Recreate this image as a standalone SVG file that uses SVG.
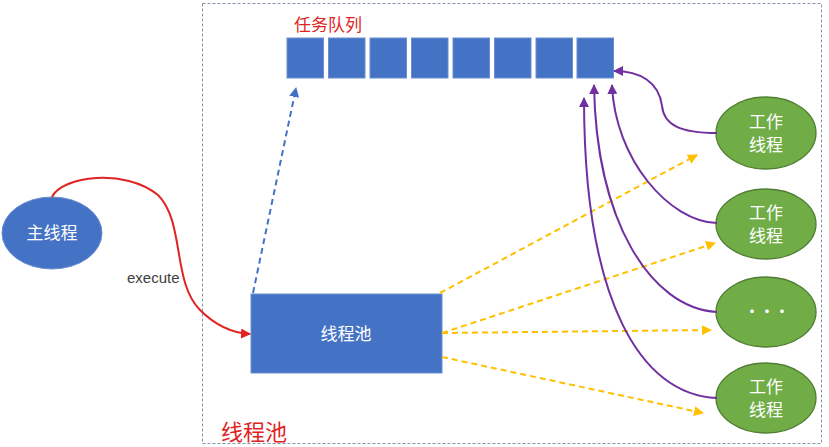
<svg xmlns="http://www.w3.org/2000/svg" width="829" height="447" viewBox="0 0 829 447">
<style>
.q{fill:#4472c4;stroke:#6a8fd0;stroke-width:1}
.w{fill:#70ad47;stroke:#507e32;stroke-width:1.3}
.t{font-family:"Noto Sans CJK SC","Liberation Sans",sans-serif;fill:#ffffff;font-size:17px;text-anchor:middle}
.red{font-family:"Noto Sans CJK SC","Liberation Sans",sans-serif;fill:#e02424}
.y{fill:none;stroke:#ffc000;stroke-width:2;stroke-dasharray:6,4;marker-end:url(#ay)}
.p{fill:none;stroke:#7030a0;stroke-width:2;marker-end:url(#ap)}
</style>
<defs>
<marker id="ay" viewBox="0 0 10 10" refX="9" refY="5" markerWidth="5" markerHeight="5" orient="auto" markerUnits="strokeWidth"><path d="M0,0 L10,5 L0,10 z" fill="#ffc000"/></marker>
<marker id="ap" viewBox="0 0 10 10" refX="9" refY="5" markerWidth="5" markerHeight="5" orient="auto" markerUnits="strokeWidth"><path d="M0,0 L10,5 L0,10 z" fill="#7030a0"/></marker>
<marker id="ar" viewBox="0 0 10 10" refX="9" refY="5" markerWidth="5" markerHeight="5" orient="auto" markerUnits="strokeWidth"><path d="M0,0 L10,5 L0,10 z" fill="#e02424"/></marker>
<marker id="ab" viewBox="0 0 10 10" refX="9" refY="5" markerWidth="5" markerHeight="5" orient="auto" markerUnits="strokeWidth"><path d="M0,0 L10,5 L0,10 z" fill="#4472c4"/></marker>
</defs>
<rect width="829" height="447" fill="#ffffff"/>
<g id="pool-boundary">
<rect x="202.5" y="3.5" width="619" height="440" fill="none" stroke="#8494a8" stroke-width="1" stroke-dasharray="3,2"/>
<text class="red" x="221" y="440" font-size="22">线程池</text>
</g>
<g id="task-queue">
<text class="red" x="294" y="31" font-size="17">任务队列</text>
<rect class="q" x="287" y="38" width="36.5" height="40"/>
<rect class="q" x="328.5" y="38" width="36.5" height="40"/>
<rect class="q" x="370" y="38" width="36.5" height="40"/>
<rect class="q" x="411.5" y="38" width="36.5" height="40"/>
<rect class="q" x="453" y="38" width="36.5" height="40"/>
<rect class="q" x="494.5" y="38" width="36.5" height="40"/>
<rect class="q" x="536" y="38" width="36.5" height="40"/>
<rect class="q" x="577" y="38" width="36.5" height="40"/>
</g>
<g id="main-thread">
<ellipse cx="52" cy="233" rx="50" ry="36" fill="#4472c4" stroke="#6a8fd0" stroke-width="1"/>
<text class="t" x="52" y="239">主线程</text>
</g>
<g id="thread-pool">
<rect x="251" y="294" width="191" height="79" fill="#4472c4" stroke="#6a8fd0" stroke-width="1"/>
<text class="t" x="346" y="340">线程池</text>
</g>
<g id="worker-1">
<ellipse class="w" cx="766" cy="133" rx="50" ry="36"/>
<text class="t" x="766" y="128">工作</text>
<text class="t" x="766" y="151">线程</text>
</g>
<g id="worker-2">
<ellipse class="w" cx="766" cy="224" rx="50" ry="35"/>
<text class="t" x="766" y="219">工作</text>
<text class="t" x="766" y="242">线程</text>
</g>
<g id="worker-3">
<ellipse class="w" cx="766" cy="312" rx="50" ry="35"/>
<text class="t" x="766" y="318" letter-spacing="-2">···</text>
</g>
<g id="worker-4">
<ellipse class="w" cx="766" cy="398" rx="50" ry="35"/>
<text class="t" x="766" y="393">工作</text>
<text class="t" x="766" y="416">线程</text>
</g>
<g id="connectors">
<path d="M52,197 C62,176 125,168 158,195 C185,222 172,282 200,310 C215,325 232,333 250,334" fill="none" stroke="#e02424" stroke-width="2" marker-end="url(#ar)"/>
<text x="127" y="283" font-family="Liberation Sans,Arial,sans-serif" font-size="15" fill="#404040">execute</text>
<path d="M253,293 L296,88" fill="none" stroke="#4472c4" stroke-width="2" stroke-dasharray="6,4" marker-end="url(#ab)"/>
<path class="y" d="M440,293 L697,155"/>
<path class="y" d="M442,333 L715,243"/>
<path class="y" d="M442,333 L711,330"/>
<path class="y" d="M442,357 L703,413"/>
<path class="p" d="M717,133 C680,133 664,125 662,106 C659,82 640,71 614,71"/>
<path class="p" d="M717,223 C670,222 615,160 612,85"/>
<path class="p" d="M717,312 C650,308 596,220 594,85"/>
<path class="p" d="M717,398 C640,395 584,300 584,98"/>
</g>
</svg>
